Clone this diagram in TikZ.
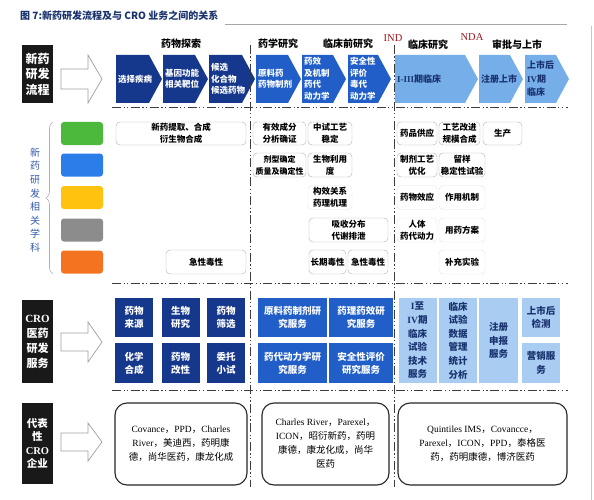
\documentclass[tikz,border=0pt]{standalone}
\usepackage{fontspec}
\setmainfont{Liberation Serif}
\newfontfamily\cjk{Noto Sans CJK SC}
\newfontfamily\latfont{Liberation Serif}
\newcommand{\lat}[1]{{\latfont #1}}
\usetikzlibrary{decorations.pathreplacing}
\definecolor{dkblue}{RGB}{22,56,140}
\definecolor{mdblue}{RGB}{33,94,200}
\definecolor{ltblue}{RGB}{118,174,234}
\definecolor{paleblue}{RGB}{168,204,242}
\definecolor{navytxt}{RGB}{25,50,110}
\definecolor{boxgray}{RGB}{175,175,175}
\definecolor{sepgray}{RGB}{60,60,60}
\definecolor{tagblue}{RGB}{50,90,170}
\definecolor{idred}{RGB}{160,20,30}
\definecolor{cgreen}{RGB}{76,184,60}
\definecolor{cblue}{RGB}{43,125,233}
\definecolor{cyellow}{RGB}{255,194,14}
\definecolor{cgray}{RGB}{140,140,140}
\definecolor{corange}{RGB}{244,115,32}

\begin{document}
\begin{tikzpicture}[x=1pt,y=-1pt,
    rowtag/.style={fill=black!90, text=white, align=center, inner sep=0pt, minimum width=31pt},
    phase/.style={font=\cjk\bfseries\fontsize{10}{12}\selectfont, inner sep=0pt},
    milestone/.style={text=idred, font=\latfont\fontsize{10.5}{12}\selectfont, inner sep=0pt},
    stagetxt/.style={text=white, font=\cjk\bfseries\fontsize{8.5}{11.5}\selectfont, align=left, inner sep=0pt, anchor=west},
    laststage/.style={stagetxt, text=navytxt, font=\cjk\bfseries\fontsize{9}{13.5}\selectfont},
    swatch/.style={rounded corners=3pt, minimum width=42pt, minimum height=23pt, inner sep=0pt},
    fieldbox/.style={draw=boxgray, rounded corners=4pt, fill=white, align=center, inner sep=0pt,
      minimum height=24pt, font=\cjk\bfseries\fontsize{8.5}{12}\selectfont},
    faintbox/.style={fieldbox, draw=gray!22},
    cell/.style={align=center, inner sep=0pt, font=\cjk\bfseries\fontsize{9.5}{13}\selectfont},
    dkcell/.style={cell, fill=dkblue, text=white, minimum width=38pt, minimum height=39pt},
    mdcell/.style={cell, fill=mdblue, text=white, minimum height=39pt},
    ltcell/.style={cell, fill=paleblue, text=navytxt, minimum width=38pt, font=\cjk\bfseries\fontsize{9.5}{13.6}\selectfont},
    compbox/.style={draw=black!85, line width=1.1pt, rounded corners=12pt, fill=white, align=center,
      inner sep=0pt, minimum height=82pt, font=\cjk\fontsize{9.5}{14}\selectfont},
    sep/.style={sepgray, line width=0.9pt, dash pattern=on 9pt off 2.5pt on 1.2pt off 2.5pt on 1.2pt off 2.5pt},
    hollow/.style={draw=gray!75, fill=white, line width=0.7pt}]

\useasboundingbox (0,0) rectangle (594,500);

% title
\node[anchor=west, text=navytxt, font=\cjk\bfseries\fontsize{10}{12}\selectfont, inner sep=0pt] (title) at (20,16) {图 7:新药研发流程及与 CRO 业务之间的关系};
\draw[gray!70, line width=0.8pt] (225,24) -- (567,24);
\draw[gray!45, line width=0.6pt] (591.5,26) -- (591.5,500);

% row tags
\node[rowtag, minimum height=58pt, font=\cjk\bfseries\fontsize{12}{15.5}\selectfont] (liucheng) at (37.5,74) {新药\\研发\\流程};
\node[rowtag, minimum height=83pt, font=\cjk\bfseries\fontsize{11}{15}\selectfont] (fuwu) at (37.5,341.5) {\lat{CRO}\\医药\\研发\\服务};
\node[rowtag, minimum height=81pt, font=\cjk\bfseries\fontsize{10.5}{13.5}\selectfont] (qiye) at (37.5,443.5) {代表\\性\\\lat{CRO}\\企业};

% hollow arrows
\foreach \y/\h/\b in {79/24/10, 342/20/9, 442/19/9}
  \draw[hollow] (61,\y-\b) -- (88,\y-\b) -- (88,\y-\h) -- (102,\y) -- (88,\y+\h) -- (88,\y+\b) -- (61,\y+\b) -- cycle;

% phases
\node[phase] (tansuo) at (181,44) {药物探索};
\node[phase] (yaoxue) at (278,44) {药学研究};
\node[phase] (linchuangqian) at (348,44) {临床前研究};
\node[milestone] (ind) at (393,38) {IND};
\node[phase] (linchuangyj) at (428,45) {临床研究};
\node[milestone] (nda) at (472,37) {NDA};
\node[phase] (shenpi) at (517,45) {审批与上市};

% stages
\foreach \xa/\xb/\col in {116/162/dkblue, 163/208/dkblue, 209/255/dkblue,
    256/301/mdblue, 302/346/mdblue, 348/391/mdblue,
    395/478/ltblue, 479/523/ltblue, 525/569/ltblue}
  \fill[\col] (\xa,55) -- (\xb-13,55) -- (\xb,79) -- (\xb-13,103) -- (\xa,103) -- cycle;

\node[stagetxt] (jibing) at (118,79) {选择疾病};
\node[stagetxt] (bawei) at (165,79) {基因功能\\相关靶位};
\node[stagetxt] (houxuan) at (211,79) {候选\\化合物\\候选药物};
\node[stagetxt] (yuanliaoyao) at (258,79) {原料药\\药物制剂};
\node[stagetxt] (yaoxiao) at (304,79) {药效\\及机制\\药代\\动力学};
\node[stagetxt] (anquanxing) at (350,79) {安全性\\评价\\毒代\\动力学};
\node[laststage] (linchuang) at (397,79) {\lat{I-III}期临床};
\node[laststage] (zhuce) at (481,79) {注册上市};
\node[laststage] (shangshi) at (527,79) {上市后\\\lat{IV}期\\临床};

% separators
\draw[sep] (112,107) -- (568,107);
\draw[sep] (112,283) -- (568,283);
\draw[sep] (112,390) -- (568,390);
\draw[sep] (250,45) -- (250,487);
\draw[sep] (394,45) -- (394,487);

% disciplines
\node[text=tagblue, font=\cjk\fontsize{10}{13.6}\selectfont, align=center, inner sep=0pt] (xueke) at (35,200) {新\\药\\研\\发\\相\\关\\学\\科};
\draw[boxgray, line width=0.6pt, decorate, decoration={brace, amplitude=7pt}] (53,274) -- (53,122);

\node[swatch, fill=cgreen] (lvse) at (82,133.5) {};
\node[swatch, fill=cblue] (lanse) at (82,165) {};
\node[swatch, fill=cyellow] (huangse) at (82,197.5) {};
\node[swatch, fill=cgray] (huise) at (82,230) {};
\node[swatch, fill=corange] (chengse) at (82,262) {};

% green row
\node[fieldbox, minimum width=130pt, minimum height=23pt] (tiqu) at (181,133.5) {新药提取、合成\\衍生物合成};
\node[fieldbox, minimum width=53pt, minimum height=23pt] (queren) at (279.5,133.5) {有效成分\\分析确证};
\node[fieldbox, minimum width=44pt, minimum height=23pt] (zhongshi) at (330,133.5) {中试工艺\\稳定};
\node[fieldbox, minimum width=40pt, minimum height=23pt] (gongying) at (417,133.5) {药品供应};
\node[fieldbox, minimum width=41pt, minimum height=23pt] (gaijin) at (459.5,133.5) {工艺改进\\规模合成};
\node[fieldbox, minimum width=39pt, minimum height=23pt] (shengchan) at (502.5,133.5) {生产};
% blue row
\node[fieldbox, minimum width=53pt, font=\cjk\bfseries\fontsize{8}{12}\selectfont] (jixing) at (279.5,165) {剂型确定\\质量及确定性};
\node[fieldbox, minimum width=44pt] (liyong) at (330,165) {生物利用\\度};
\node[fieldbox, minimum width=40pt] (gongyi) at (417,165) {制剂工艺\\优化};
\node[fieldbox, minimum width=46pt] (liuyang) at (462,165) {留样\\稳定性试验};
% yellow row
\node[faintbox, minimum width=44pt] (gouxiao) at (330,197.5) {构效关系\\药理机理};
\node[faintbox, minimum width=40pt] (xiaoying) at (417,197.5) {药物效应};
\node[faintbox, minimum width=46pt] (jizhi) at (462,197.5) {作用机制};
% gray row
\node[fieldbox, minimum width=79pt] (xishou) at (348.5,230) {吸收分布\\代谢排泄};
\node[faintbox, minimum width=40pt] (renti) at (417,230) {人体\\药代动力};
\node[faintbox, minimum width=46pt] (fangan) at (462,230) {用药方案};
% orange row
\node[fieldbox, minimum width=80pt] (jixingdu) at (206,262) {急性毒性};
\node[fieldbox, minimum width=37pt] (changqi) at (327.5,262) {长期毒性};
\node[fieldbox, minimum width=40pt] (jixingdu2) at (368,262) {急性毒性};
\node[faintbox, minimum width=46pt] (buchong) at (462,262) {补充实验};

% CRO services
\node[dkcell] (laiyuan) at (134,317.5) {药物\\来源};
\node[dkcell] (shengwu) at (180.5,317.5) {生物\\研究};
\node[dkcell] (shaixuan) at (226,317.5) {药物\\筛选};
\node[dkcell, minimum height=40pt] (hecheng) at (134,363) {化学\\合成};
\node[dkcell, minimum height=40pt] (gaixing) at (180.5,363) {药物\\改性};
\node[dkcell, minimum height=40pt] (xiaoshi) at (226,363) {委托\\小试};

\node[mdcell, minimum width=69pt] (zhijifw) at (292.5,317.5) {原料药制剂研\\究服务};
\node[mdcell, minimum width=64pt] (yaolifw) at (361,317.5) {药理药效研\\究服务};
\node[mdcell, minimum width=69pt, minimum height=40pt] (yaodaifw) at (292.5,363) {药代动力学研\\究服务};
\node[mdcell, minimum width=64pt, minimum height=40pt] (anquanfw) at (361,363) {安全性评价\\研究服务};

\node[ltcell, minimum height=85pt] (shiyanfw) at (417.5,340.5) {\lat{I}至\\\lat{IV}期\\临床\\试验\\技术\\服务};
\node[ltcell, minimum height=85pt] (shujufw) at (458,340.5) {临床\\试验\\数据\\管理\\统计\\分析};
\node[ltcell, minimum width=39pt, minimum height=85pt] (shenbaofw) at (498.5,340.5) {注册\\申报\\服务};
\node[ltcell, minimum height=39pt] (jiance) at (541,317.5) {上市后\\检测};
\node[ltcell, minimum height=40pt] (yingxiao) at (541,363) {营销服\\务};

% representative CROs
\node[compbox, minimum width=132pt] (qiye1) at (181,444) {\lat{Covance}，\lat{PPD}，\lat{Charles}\\\lat{River}，美迪西，药明康\\德，尚华医药，康龙化成};
\node[compbox, minimum width=127pt] (qiye2) at (325.5,444) {\lat{Charles River}，\lat{Parexel}，\\\lat{ICON}，昭衍新药，药明\\康德，康龙化成，尚华\\医药};
\node[compbox, minimum width=169pt] (qiye3) at (482.5,444) {\lat{Quintiles IMS}，\lat{Covancce}，\\\lat{Parexel}，\lat{ICON}，\lat{PPD}，泰格医\\药，药明康德，博济医药};
\end{tikzpicture}
\end{document}
